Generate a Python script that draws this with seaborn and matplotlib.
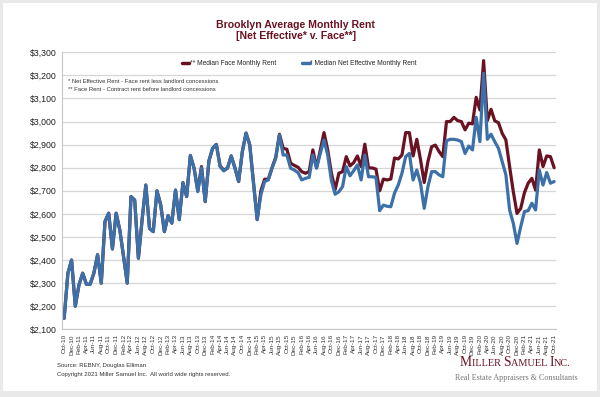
import matplotlib
matplotlib.use('Agg')
import matplotlib.pyplot as plt
from matplotlib.patches import Rectangle
from matplotlib.offsetbox import TextArea, HPacker, AnchoredOffsetbox
import pandas as pd
import seaborn as sns

# monthly categories Oct-10 .. Oct-21
months = pd.date_range('2010-10-01', periods=133, freq='MS').strftime('%b-%y').tolist()

net_rent = [
    2148, 2342, 2400, 2200, 2293, 2343, 2295, 2295, 2343, 2423,
    2300, 2567, 2603, 2448, 2603, 2530, 2415, 2300, 2675, 2660,
    2408, 2575, 2725, 2537, 2523, 2700, 2640, 2523, 2592, 2560,
    2703, 2575, 2735, 2675, 2853, 2798, 2696, 2800, 2653, 2830,
    2884, 2901, 2805, 2786, 2798, 2851, 2798, 2740, 2870, 2950,
    2899, 2733, 2575, 2683, 2740, 2747, 2798, 2841, 2942, 2855,
    2855, 2798, 2790, 2779, 2747, 2754, 2758, 2855, 2798, 2862,
    2920, 2855, 2744, 2685, 2696, 2718, 2805, 2765, 2787, 2812,
    2747, 2855, 2761, 2761, 2758, 2614, 2638, 2633, 2631, 2690,
    2725, 2776, 2848, 2862, 2747, 2790, 2733, 2624, 2718, 2783,
    2783, 2769, 2761, 2917, 2923, 2923, 2920, 2913, 2862, 2894,
    2877, 3018, 2913, 3209, 2923, 2945, 2913, 2884, 2826, 2769,
    2617, 2559, 2472, 2545, 2610, 2614, 2646, 2617, 2790, 2725,
    2779, 2733, 2740,
]

face_rent = [
    2148, 2342, 2400, 2200, 2293, 2343, 2295, 2295, 2343, 2423,
    2300, 2567, 2603, 2448, 2603, 2530, 2415, 2300, 2675, 2660,
    2408, 2575, 2725, 2537, 2523, 2700, 2640, 2523, 2592, 2560,
    2703, 2575, 2735, 2675, 2853, 2798, 2700, 2805, 2653, 2830,
    2884, 2901, 2808, 2790, 2798, 2851, 2800, 2740, 2870, 2950,
    2899, 2735, 2575, 2700, 2750, 2750, 2800, 2845, 2945, 2884,
    2880, 2820, 2810, 2802, 2783, 2776, 2783, 2877, 2800, 2877,
    2952, 2877, 2776, 2705, 2776, 2783, 2848, 2808, 2822, 2851,
    2805, 2902, 2799, 2799, 2794, 2700, 2751, 2747, 2751, 2842,
    2838, 2855, 2952, 2952, 2851, 2923, 2835, 2736, 2827, 2891,
    2898, 2870, 2848, 3000, 3000, 3018, 3004, 3000, 2964, 2993,
    2990, 3105, 3050, 3264, 3004, 3053, 3003, 2995, 2949, 2920,
    2805, 2696, 2602, 2624, 2692, 2733, 2754, 2703, 2877, 2805,
    2851, 2848, 2800,
]

series_names = ['** Median Face Monthly Rent', '* Median Net Effective Monthly Rent']
y_ticks = list(range(2100, 3301, 100))

sns.set_theme(style='white')
plt.rcParams['font.family'] = ['Liberation Sans', 'DejaVu Sans']

df = pd.DataFrame({
    'idx': list(range(len(months))) * 2,
    'rent': face_rent + net_rent,
    'series': [series_names[0]] * len(months) + [series_names[1]] * len(months),
})

fig = plt.figure(figsize=(6, 3.97), dpi=100, facecolor='#e9e9e9')
fig.add_artist(Rectangle((3 / 600, 6 / 397), 594 / 600, 388 / 397, transform=fig.transFigure,
                         facecolor='white', edgecolor='none', zorder=-10))
ax = fig.add_axes([62.3 / 600, 1 - 329.3 / 397, (556 - 62.3) / 600, 277 / 397])

sns.lineplot(data=df, x='idx', y='rent', hue='series', hue_order=series_names,
             palette=['#6a1222', '#3c70a8'], linewidth=2.3, sort=False, ax=ax)
for ln in ax.lines:
    ln.set_solid_joinstyle('round')

ax.set_xlim(-0.5, len(months) - 0.5)
ax.set_ylim(2100, 3300)
ax.set_yticks(y_ticks)
ax.set_yticklabels([f'${v:,}' for v in y_ticks], fontsize=6.3, color='#222222')
ax.set_xticks(range(0, len(months), 2))
ax.set_xticklabels(months[::2], rotation=90, fontsize=4.6, color='#333333')
ax.tick_params(axis='y', length=0, pad=4)
ax.tick_params(axis='x', length=2, width=0.5, color='#bfbfbf', pad=1.5)
ax.set_xlabel('')
ax.set_ylabel('')
ax.yaxis.grid(True, color='#d6d6d6', linewidth=0.9)
ax.xaxis.grid(False)
for side in ['top', 'right']:
    ax.spines[side].set_visible(False)
for side in ['left', 'bottom']:
    ax.spines[side].set_color('#c8c8c8')
    ax.spines[side].set_linewidth(0.8)

leg = ax.legend(loc='center', bbox_to_anchor=(0.48, 0.96), ncol=2, frameon=False,
                fontsize=4.8, handlelength=1.1, handletextpad=0.1, columnspacing=4)
for h in leg.get_lines():
    h.set_linewidth(2.5)

ax.text(0.0115, 0.893, '* Net Effective Rent - Face rent less landlord concessions',
        transform=ax.transAxes, fontsize=4.2, color='#333333', va='center')
ax.text(0.0115, 0.864, '** Face Rent - Contract rent before landlord concessions',
        transform=ax.transAxes, fontsize=4.2, color='#333333', va='center')

fig.text(0.493, 1 - 30.5 / 397, 'Brooklyn Average Monthly Rent\n[Net Effective* v. Face**]',
         ha='center', va='center', fontsize=7.6, fontweight='bold', color='#6a1222',
         linespacing=1.15)

fig.text(57 / 600, 1 - 365 / 397, 'Source: REBNY, Douglas Elliman', fontsize=4.3,
         color='#333333', va='center')
fig.text(57 / 600, 1 - 374.5 / 397,
         'Copyright 2021 Miller Samuel Inc.  All world wide rights reserved.',
         fontsize=4.3, color='#333333', va='center')

# logo in small caps
logo_color = '#6a1222'
parts = [('M', 9.8), ('ILLER ', 7.4), ('S', 9.8), ('AMUEL ', 7.4), ('I', 9.8), ('NC.', 7.4)]
boxes = [TextArea(t, textprops=dict(fontsize=s, color=logo_color, family='Liberation Serif'))
         for t, s in parts]
logo = HPacker(children=boxes, align='baseline', pad=0, sep=0)
anchored = AnchoredOffsetbox(loc='center', child=logo, frameon=False, pad=0,
                             bbox_to_anchor=(515 / 600, 1 - 362 / 397),
                             bbox_transform=fig.transFigure, borderpad=0)
fig.add_artist(anchored)
fig.text(516 / 600, 1 - 378.5 / 397, 'Real Estate Appraisers & Consultants', ha='center',
         va='center', fontsize=5.9, color='#777777', family='Liberation Serif')

fig.savefig('out.png', dpi=100, facecolor=fig.get_facecolor())
